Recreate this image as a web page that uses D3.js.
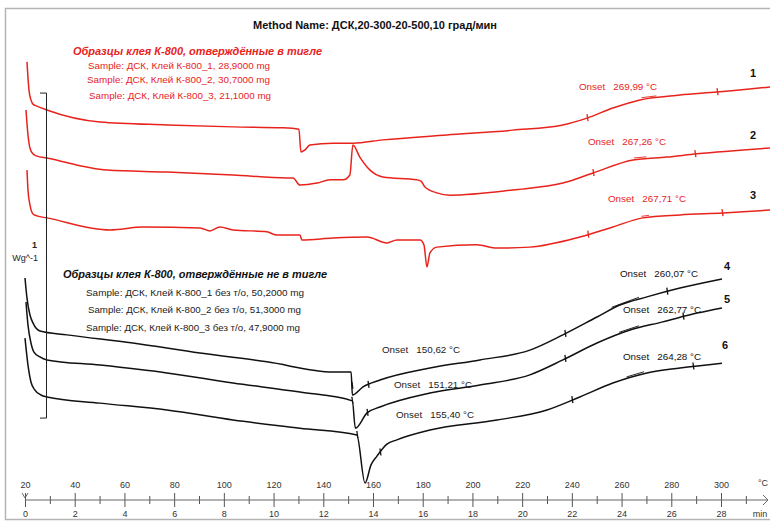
<!DOCTYPE html>
<html>
<head>
<meta charset="utf-8">
<script src="https://cdn.jsdelivr.net/npm/d3@7"></script>
<style>
  body { margin: 0; background: #fff; }
  svg { display: block; font-family: "Liberation Sans", Arial, sans-serif; }
</style>
</head>
<body>
<svg id="chart" width="770" height="521"></svg>
<script>
// heat flow curves, [temperature °C, heat flow W/g with plot offset]
const curve1 = [[20.8,1.345],[21.6,1.258],[22.4,1.228],[23.2,1.215],[24.8,1.209],[28.8,1.197],[50.2,1.160],[77.1,1.151],
  [103.7,1.145],[123.8,1.142],[130.2,1.138],[131.0,1.068],[132.6,1.074],[134.6,1.089],[143.9,1.095],[151.9,1.095],
  [164.0,1.105],[189.7,1.120],[216.3,1.135],[236.4,1.151],[246.1,1.172],[256.5,1.203],[267.4,1.228],[283.5,1.243],
  [298.4,1.252],[319.7,1.268]]
const curve2 = [[20.4,1.197],[21.2,1.120],[22.0,1.080],[23.2,1.062],[24.8,1.055],[28.8,1.049],[53.0,1.012],[77.1,1.006],
  [103.7,0.997],[125.4,0.988],[127.8,0.988],[130.6,0.966],[137.5,0.972],[142.7,0.982],[147.9,0.982],[150.7,0.997],
  [151.9,1.089],[154.7,1.052],[158.8,1.012],[164.0,0.991],[177.7,0.982],[179.3,0.978],[180.9,0.960],[185.7,0.942],
  [191.0,0.935],[216.3,0.951],[236.4,0.972],[248.5,1.003],[264.6,1.043],[278.2,1.052],[290.3,1.062],[319.7,1.080]]
const curve3 = [[20.8,1.012],[21.2,0.951],[22.0,0.905],[23.2,0.877],[24.8,0.871],[28.8,0.865],[54.2,0.828],[67.5,0.837],
  [90.4,0.834],[94.4,0.825],[98.4,0.837],[103.7,0.828],[117.3,0.822],[121.4,0.812],[130.6,0.812],[131.4,0.797],
  [143.9,0.803],[157.6,0.806],[165.6,0.788],[169.6,0.797],[178.9,0.797],[180.5,0.782],[181.7,0.714],[182.9,0.757],
  [185.7,0.775],[201.8,0.782],[209.9,0.772],[223.1,0.775],[243.2,0.806],[256.5,0.837],[268.6,0.865],[283.5,0.874],
  [300.8,0.880],[319.7,0.889]]
const curve4 = [[20.0,0.680],[20.8,0.618],[22.0,0.566],[23.2,0.542],[26.0,0.517],[36.9,0.505],[63.4,0.480],[90.4,0.449],
  [117.3,0.422],[143.9,0.391],[151.2,0.391],[151.7,0.320],[156.0,0.345],[162.8,0.366],[182.9,0.403],[203.0,0.428],
  [223.1,0.458],[236.4,0.505],[250.1,0.560],[259.3,0.597],[270.2,0.622],[283.5,0.649],[300.4,0.677]]
const curve5 = [[20.4,0.606],[21.2,0.535],[22.4,0.480],[23.6,0.452],[26.0,0.437],[28.8,0.428],[50.2,0.412],[77.1,0.388],
  [103.7,0.357],[130.6,0.329],[151.7,0.302],[152.9,0.218],[157.6,0.265],[162.8,0.283],[182.9,0.326],[203.0,0.351],
  [223.1,0.382],[236.4,0.428],[250.1,0.480],[263.4,0.520],[276.6,0.545],[290.3,0.572],[300.4,0.588]]
const curve6 = [[20.0,0.495],[21.2,0.412],[22.4,0.360],[24.0,0.335],[26.4,0.320],[28.8,0.314],[50.2,0.295],[77.1,0.274],
  [103.7,0.243],[130.6,0.218],[153.5,0.197],[156.8,0.049],[159.2,0.105],[161.6,0.132],[165.6,0.169],[169.6,0.182],
  [182.9,0.212],[209.9,0.243],[230.0,0.274],[243.2,0.314],[256.5,0.357],[270.2,0.388],[283.5,0.403],[300.4,0.418]]

const curveNames = ['1', '2', '3', '4', '5', '6']
const curveColors = ['#e8231c', '#e8231c', '#e8231c', '#111', '#111', '#111']
const onsetTexts = ['Onset   269,99 °C', 'Onset   267,26 °C', 'Onset   267,71 °C',
  'Onset   260,07 °C', 'Onset   262,77 °C', 'Onset   264,28 °C']
const onsetLowTexts = ['Onset   150,62 °C', 'Onset   151,21 °C', 'Onset   155,40 °C']
// onset marks (°C) and tangent spans on each curve
const markTemps = [[246.1, 298.4], [248.5, 289.5], [246.4, 300.4],
  [151.5, 158, 237.2, 278.2], [151.5, 157.6, 237.2, 284.7], [153.5, 162.8, 240.0, 288.7]]
const tangentSpans = [[268, 274], [265, 270], [268, 271], [256, 267], [259, 267], [262, 269]]

const tempTicks = d3.range(20, 301, 20)
const tempMinorTicks = d3.range(30, 311, 20)
const timeTicks = d3.range(0, 29, 2)

const title = 'Method Name: ДСК,20-300-20-500,10 град/мин'
const redTitle = 'Образцы клея К-800, отверждённые в тигле'
const redSamples = ['Sample: ДСК, Клей К-800_1, 28,9000 mg', 'Sample: ДСК, Клей К-800_2, 30,7000 mg',
  'Sample: ДСК, Клей К-800_3, 21,1000 mg']
const blackTitle = 'Образцы клея К-800, отверждённые не в тигле'
const blackSamples = ['Sample: ДСК, Клей К-800_1 без т/о, 50,2000 mg', 'Sample: ДСК, Клей К-800_2 без т/о, 51,3000 mg',
  'Sample: ДСК, Клей К-800_3 без т/о, 47,9000 mg']

const curves = [curve1, curve2, curve3, curve4, curve5, curve6]

const svg = d3.select('#chart')
const x = d3.scaleLinear().domain([20, 300]).range([25, 721])
const xTime = d3.scaleLinear().domain([0, 28]).range([25, 721])
const y = d3.scaleLinear().domain([0, 1.5]).range([499, 11.5])
const axisY = 500

// frame
svg.append('rect').attr('x', 5.5).attr('y', 8.5).attr('width', 790).attr('height', 511)
  .attr('fill', 'none').attr('stroke', '#b5b5b5').attr('stroke-width', 1.5)

function valueAt(data, t) {
  let i = d3.bisector(d => d[0]).left(data, t)
  i = Math.max(1, Math.min(data.length - 1, i))
  const a = data[i - 1], b = data[i]
  const k = (t - a[0]) / (b[0] - a[0])
  return a[1] + k * (b[1] - a[1])
}

const line = d3.line().x(d => x(d[0])).y(d => y(d[1])).curve(d3.curveMonotoneX)

curves.forEach((data, i) => {
  const g = svg.append('g').attr('class', 'curve' + (i + 1))
  g.append('path').datum(data).attr('d', line)
    .attr('fill', 'none').attr('stroke', curveColors[i]).attr('stroke-width', 1.5)

  g.selectAll('line.mark').data(markTemps[i]).join('line').attr('class', 'mark')
    .attr('x1', d => x(d)).attr('x2', d => x(d) + 1)
    .attr('y1', d => y(valueAt(data, d)) - 4).attr('y2', d => y(valueAt(data, d)) + 3)
    .attr('stroke', curveColors[i]).attr('stroke-width', 1.3)

  const span = tangentSpans[i]
  g.append('line')
    .attr('x1', x(span[0])).attr('y1', y(valueAt(data, span[0])) - 2)
    .attr('x2', x(span[1])).attr('y2', y(valueAt(data, span[1])) - 2)
    .attr('stroke', curveColors[i]).attr('stroke-width', 0.9)
})

// 1 W/g scale bar
const bar = svg.append('g').attr('stroke', '#222').attr('stroke-width', 1)
bar.append('line').attr('x1', 46.5).attr('x2', 46.5).attr('y1', y(1.249)).attr('y2', y(0.249))
bar.append('line').attr('x1', 40).attr('x2', 46.5).attr('y1', y(1.249)).attr('y2', y(1.249))
bar.append('line').attr('x1', 40).attr('x2', 46.5).attr('y1', y(0.249)).attr('y2', y(0.249))
svg.append('text').attr('x', 37).attr('y', 248).attr('text-anchor', 'end')
  .attr('font-size', 9).attr('font-weight', 'bold').attr('fill', '#222').text('1')
svg.append('text').attr('x', 38).attr('y', 261).attr('text-anchor', 'end')
  .attr('font-size', 9).attr('fill', '#222').text('Wg^-1')

// x axes
const tempAxis = d3.axisTop(x).tickValues(tempTicks).tickSize(7).tickPadding(5).tickFormat(d3.format('d'))
const timeAxis = d3.axisBottom(xTime).tickValues(timeTicks).tickSize(7).tickPadding(4).tickFormat(d3.format('d'))
const minorTop = d3.axisTop(x).tickValues(tempMinorTicks).tickSize(4).tickFormat('')
const minorBottom = d3.axisBottom(x).tickValues(tempMinorTicks).tickSize(4).tickFormat('')

;[tempAxis, timeAxis, minorTop, minorBottom].forEach(ax => {
  const g = svg.append('g').attr('transform', `translate(0,${axisY})`).call(ax)
  g.select('.domain').remove()
  g.selectAll('line').attr('stroke', '#555')
  g.selectAll('text').attr('font-size', 9).attr('fill', '#333')
    .attr('font-family', '"Liberation Sans", Arial, sans-serif')
})

svg.append('line').attr('x1', 25).attr('x2', 768).attr('y1', axisY).attr('y2', axisY)
  .attr('stroke', '#666').attr('stroke-width', 1)
svg.append('path').attr('d', `M763,${axisY - 5}L768,${axisY}L763,${axisY + 5}`)
  .attr('fill', 'none').attr('stroke', '#666')
svg.append('path').attr('d', `M22,${axisY - 7}L25,${axisY - 2}L28,${axisY - 7}`)
  .attr('fill', 'none').attr('stroke', '#666')
svg.append('text').attr('x', 763).attr('y', 486).attr('text-anchor', 'middle')
  .attr('font-size', 9).attr('fill', '#333').text('°C')
svg.append('text').attr('x', 760).attr('y', 517).attr('text-anchor', 'middle')
  .attr('font-size', 9).attr('fill', '#333').text('min')

// title and legends
svg.append('text').attr('x', 253).attr('y', 29).attr('textLength', 244).attr('lengthAdjust', 'spacingAndGlyphs')
  .attr('font-size', 11.5).attr('font-weight', 'bold').attr('fill', '#111').text(title)

svg.append('text').attr('x', 73).attr('y', 55).attr('textLength', 249).attr('lengthAdjust', 'spacingAndGlyphs')
  .attr('font-size', 11.5).attr('font-style', 'italic').attr('font-weight', 'bold').attr('fill', '#e8231c').text(redTitle)
const redLayout = [[88, 69, 182], [87, 83, 183], [89, 99, 182]]
redSamples.forEach((s, i) => {
  const p = redLayout[i]
  svg.append('text').attr('x', p[0]).attr('y', p[1]).attr('textLength', p[2]).attr('lengthAdjust', 'spacingAndGlyphs')
    .attr('font-size', 9).attr('fill', '#e8231c').text(s)
})

svg.append('text').attr('x', 63).attr('y', 278).attr('textLength', 264).attr('lengthAdjust', 'spacingAndGlyphs')
  .attr('font-size', 11.5).attr('font-style', 'italic').attr('font-weight', 'bold').attr('fill', '#111').text(blackTitle)
const blackLayout = [[86, 296, 218], [88, 313, 213], [86, 331, 214]]
blackSamples.forEach((s, i) => {
  const p = blackLayout[i]
  svg.append('text').attr('x', p[0]).attr('y', p[1]).attr('textLength', p[2]).attr('lengthAdjust', 'spacingAndGlyphs')
    .attr('font-size', 9).attr('fill', '#222').text(s)
})

// onset labels and curve numbers
const onsetLayout = [[579, 90], [588, 145], [608, 202], [620, 277], [623, 313], [623, 360]]
onsetTexts.forEach((s, i) => {
  svg.append('text').attr('x', onsetLayout[i][0]).attr('y', onsetLayout[i][1])
    .attr('textLength', 78).attr('lengthAdjust', 'spacingAndGlyphs').style('white-space', 'pre')
    .attr('font-size', 9).attr('fill', curveColors[i]).text(s)
})
const onsetLowLayout = [[382, 353], [394, 388], [396, 418]]
onsetLowTexts.forEach((s, i) => {
  svg.append('text').attr('x', onsetLowLayout[i][0]).attr('y', onsetLowLayout[i][1])
    .attr('textLength', 78).attr('lengthAdjust', 'spacingAndGlyphs').style('white-space', 'pre')
    .attr('font-size', 9).attr('fill', '#222').text(s)
})

const nameLayout = [[753, 77], [753, 139], [753, 199], [727, 270], [727, 303], [725, 349]]
curveNames.forEach((s, i) => {
  svg.append('text').attr('x', nameLayout[i][0]).attr('y', nameLayout[i][1]).attr('text-anchor', 'middle')
    .attr('font-size', 11).attr('font-weight', 'bold').attr('fill', '#111').text(s)
})
</script>
</body>
</html>
